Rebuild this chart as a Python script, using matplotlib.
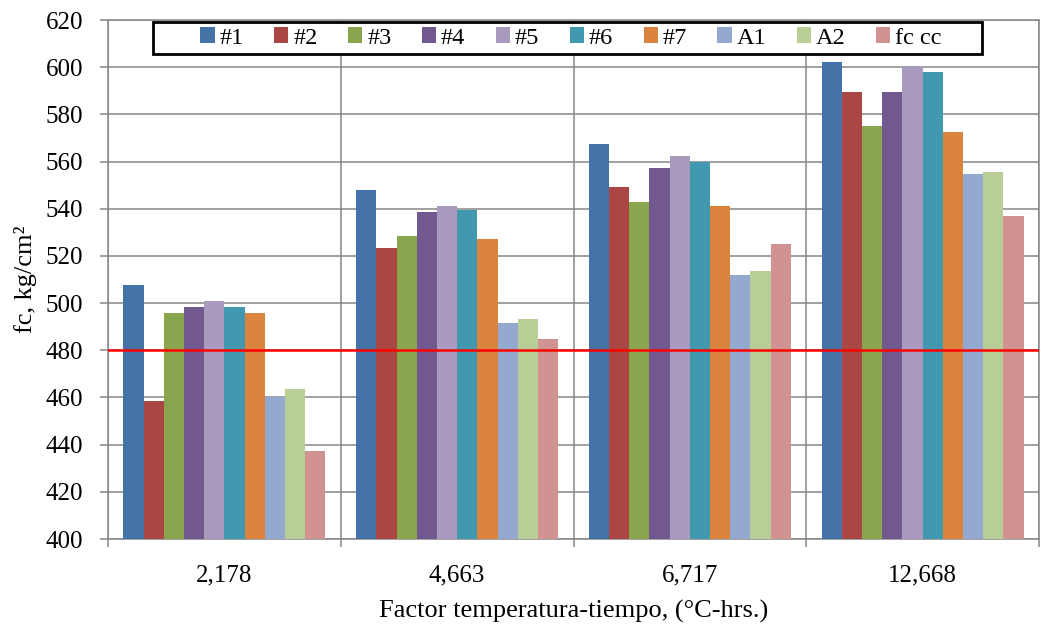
import matplotlib
matplotlib.use("Agg")
import matplotlib.pyplot as plt
import numpy as np
from matplotlib.ticker import FixedLocator
from matplotlib.patches import Rectangle

plt.rcParams['font.family'] = ['Liberation Serif', 'DejaVu Serif']

categories = ["2,178", "4,663", "6,717", "12,668"]
series_names = ["#1", "#2", "#3", "#4", "#5", "#6", "#7", "A1", "A2", "fc cc"]
s1 = [507.5, 548.0, 567.5, 602.2]
s2 = [458.5, 523.5, 549.0, 589.5]
s3 = [495.6, 528.6, 543.0, 575.2]
s4 = [498.2, 538.8, 557.4, 589.5]
s5 = [500.7, 541.3, 562.5, 600.5]
s6 = [498.2, 539.6, 560.0, 598.0]
s7 = [495.6, 527.0, 541.3, 572.6]
a1 = [460.1, 491.4, 511.7, 554.8]
a2 = [463.5, 493.1, 513.4, 555.6]
fccc = [437.2, 484.6, 525.2, 537.0]
reference_value = 480
series = [s1, s2, s3, s4, s5, s6, s7, a1, a2, fccc]
colors = ["#4572A7", "#AA4643", "#89A54E", "#71588F", "#A99BBD",
          "#4198AF", "#DB843D", "#93A9CF", "#B9CD96", "#D19392"]

fig = plt.figure(figsize=(10.45, 6.34), dpi=100)
ax = fig.add_axes([108/1045, 1-539/634, 931/1045, 519/634])

n = len(series)
group_frac = 0.868
w = group_frac / n
x = np.arange(len(categories))
for i, (vals, c, name) in enumerate(zip(series, colors, series_names)):
    off = (i - (n - 1) / 2) * w
    ax.bar(x + off, np.array(vals) - 400, bottom=400, width=w, color=c,
           label=name, zorder=3, linewidth=0)

ax.set_xlim(-0.5, len(categories) - 0.5)
ax.set_ylim(400, 620)
ax.set_yticks(np.arange(400, 621, 20))
ax.set_xticks(x)
ax.set_xticklabels(categories)
ax.xaxis.set_minor_locator(FixedLocator(np.arange(-0.5, len(categories), 1.0)))

grid_c = "#868686"
ax.yaxis.grid(True, color=grid_c, linewidth=1.1, zorder=1)
ax.xaxis.grid(True, which='minor', color=grid_c, linewidth=1.1, zorder=1)
ax.xaxis.grid(False, which='major')
ax.set_axisbelow(True)
for sp in ax.spines.values():
    sp.set_color(grid_c)
    sp.set_linewidth(1.1)

ax.tick_params(axis='y', which='major', length=6, width=1.1, color=grid_c,
               labelsize=18, pad=12)
ax.tick_params(axis='x', which='major', length=0, labelsize=18, pad=18)
ax.tick_params(axis='x', which='minor', length=6, width=1.1, color=grid_c)

ax.axhline(reference_value, color="#FF0000", linewidth=1.8, zorder=4)

ax.set_xlabel("Factor temperatura-tiempo, (°C-hrs.)", fontsize=19, labelpad=10)
ax.set_ylabel("fc, kg/cm²", fontsize=19, labelpad=6)

# legend frame
fx0 = (153 - 108) / 931
fx1 = (982 - 108) / 931
fy0 = (539 - 54) / 519
fy1 = (539 - 22) / 519
ax.add_patch(Rectangle((fx0, fy0), fx1 - fx0, fy1 - fy0, transform=ax.transAxes,
                       facecolor='white', edgecolor='black', linewidth=2.0,
                       zorder=9, clip_on=False))
leg = ax.legend(ncol=10, loc='center', bbox_to_anchor=((571 - 108) / 931, (fy0 + fy1) / 2),
                fontsize=17.5, frameon=False,
                handlelength=0.59, handleheight=0.59, handletextpad=0.2,
                borderaxespad=0, borderpad=0, columnspacing=1.25)
leg.set_zorder(10)

fig.savefig("out.png", dpi=100)
